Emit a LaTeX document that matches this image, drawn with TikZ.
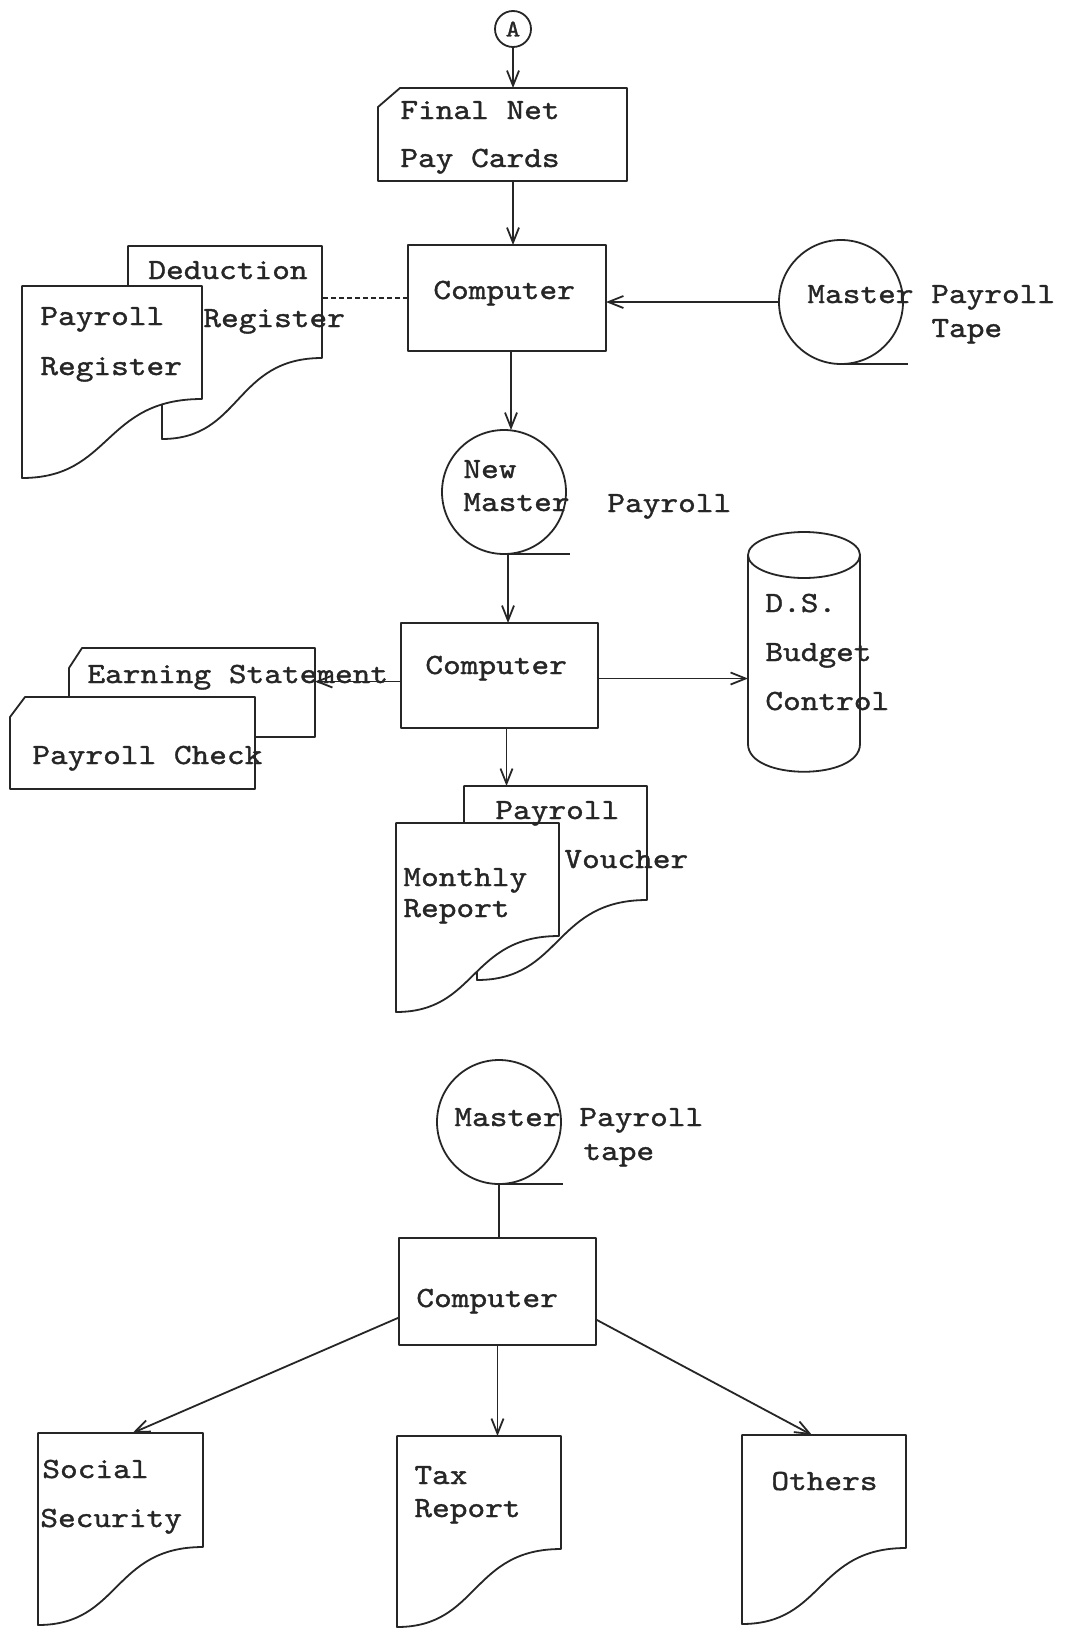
\documentclass[tikz,border=0pt]{standalone}
\usepackage{fontspec}
\newfontfamily\tw{lmmono10-regular.otf}[FakeStretch=1.15,FakeBold=1.2]
\usetikzlibrary{arrows.meta}
\begin{document}
\begin{tikzpicture}[x=0.5pt,y=-0.5pt,
  ink/.style={line width=0.9pt, draw=black!85, line join=round},
  arr/.style={ink, -{Straight Barb[length=7.5pt,width=6pt]}},
  dashlink/.style={ink, dash pattern=on 2.4pt off 1.6pt},
  sheet/.style={ink, fill=white},
  lbl/.style={anchor=base west, inner sep=0pt, text=black!85,
              font=\tw\fontsize{14.65pt}{17pt}\selectfont},
  area/.style 2 args={inner sep=0pt, outer sep=0pt,
              minimum width=#1, minimum height=#2},
  proc/.style={ink, rectangle, inner sep=0pt, outer sep=0pt, fill=white},
  reel/.style={ink, circle, inner sep=0pt, outer sep=0pt},
]
\useasboundingbox[fill=white] (0,0) rectangle (1066,1633);

% ---------------- first run: final net pay cards ----------------
\node[reel, minimum size=18pt, text=black!85,
      font=\tw\fontsize{12pt}{14pt}\selectfont] (A) at (513,29) {A};

\node[area={124.5pt}{46.5pt}] (fn) at (502.5,134.5) {};
\draw[sheet] (378,107) -- (400,88) -- (627,88) -- (627,181) -- (378,181) -- cycle;

\node[proc, minimum width=99pt, minimum height=53pt] (c1) at (507,298) {};
\node[reel, minimum size=62pt] (t1) at (841,302) {};

% deduction register (behind) and payroll register (front)
\node[area={97pt}{56pt}] (ded) at (225,302) {};
\draw[sheet] (128,246) -- (322,246) -- (322,358)
  .. controls (234,358) and (242,439) .. (162,439)
  -- (162,300) -- (128,300) -- cycle;
\node[area={90pt}{56.5pt}] (prg) at (112,342.5) {};
\draw[sheet] (22,286) -- (202,286) -- (202,399)
  .. controls (103,399) and (112,478) .. (22,478) -- cycle;

% ---------------- second run: new master payroll ----------------
\node[reel, minimum size=62pt] (nm) at (504,492) {};
\node[proc, minimum width=98.5pt, minimum height=52.5pt] (c2) at (499.5,675.5) {};

% disk file
\node[area={56pt}{94.5pt}] (cyl) at (804,649.5) {};
\draw[ink] (804,555) ellipse [x radius=56, y radius=23];
\draw[ink] (748,555) -- (748,744) .. controls (748,781) and (860,781) .. (860,744) -- (860,555);

% earning statement (behind) and payroll check (front)
\node[area={123pt}{44.5pt}] (es) at (192,692.5) {};
\draw[sheet] (69,668) -- (82,648) -- (315,648) -- (315,737) -- (69,737) -- cycle;
\node[area={122.5pt}{46pt}] (pc) at (132.5,743) {};
\draw[sheet] (10,717) -- (25,697) -- (255,697) -- (255,789) -- (10,789) -- cycle;

% payroll voucher (behind) and monthly report (front)
\node[area={91.5pt}{57pt}] (pv) at (555.5,843) {};
\draw[sheet] (464,786) -- (647,786) -- (647,900)
  .. controls (553.5,900) and (562,980) .. (477,980)
  -- (477,840) -- (464,840) -- cycle;
\node[area={81.5pt}{56.5pt}] (mr) at (477.5,879.5) {};
\draw[sheet] (396,823) -- (559,823) -- (559,936)
  .. controls (469.4,936) and (477.5,1012) .. (396,1012) -- cycle;

% ---------------- third run: reports ----------------
\node[reel, minimum size=62pt] (t3) at (499,1122) {};
\node[proc, minimum width=98.5pt, minimum height=53.5pt] (c3) at (497.5,1291.5) {};

\node[area={82.5pt}{57pt}] (ss) at (120.5,1490) {};
\draw[sheet] (38,1433) -- (203,1433) -- (203,1547)
  .. controls (112.25,1547) and (120.5,1625) .. (38,1625) -- cycle;
\node[area={82pt}{56.5pt}] (tx) at (479,1492.5) {};
\draw[sheet] (397,1436) -- (561,1436) -- (561,1549)
  .. controls (470.8,1549) and (479,1627) .. (397,1627) -- cycle;
\node[area={82pt}{56.5pt}] (ot) at (824,1491.5) {};
\draw[sheet] (742,1435) -- (906,1435) -- (906,1548)
  .. controls (815.8,1548) and (824,1624) .. (742,1624) -- cycle;

% tape leaders
\draw[ink] (t1.south) -- ++(67,0);
\draw[ink] (nm.south) -- ++(66,0);
\draw[ink] (t3.south) -- ++(64,0);

% ---------------- connectors ----------------
\draw[arr] (A) -- (A |- fn.north);
\draw[arr] (A |- fn.south) -- (A |- c1.north);
\draw[arr] (t1) -- (t1 -| c1.east);
\draw[dashlink] (c1.west) -- (c1.west -| ded.east);
\draw[arr] ([xshift=2pt]c1.south) -- ([xshift=2pt]c1.south |- nm.north);
\draw[arr] ([xshift=2pt]nm.south) -- ([xshift=2pt]nm.south |- c2.north);
\draw[arr] ([yshift=-1.5pt]c2.east) -- ([yshift=-1.5pt]c2.east -| cyl.west);
\draw[arr] ([yshift=-3pt]c2.west) -- ([yshift=-3pt]c2.west -| es.east);
\draw[arr] ([xshift=3.5pt]c2.south) -- ([xshift=3.5pt]c2.south |- pv.north);
\draw[ink] (t3) -- (t3 |- c3.north);
\draw[arr] ([yshift=-13pt]c3.west) -- ([xshift=6pt]ss.north);
\draw[arr] (c3.south) -- (c3.south |- tx.north);
\draw[arr] ([yshift=-14pt]c3.east) -- ([xshift=-6pt]ot.north);

% ---------------- labels ----------------
\node[lbl] (l01) at (400,119) {Final Net};
\node[lbl] (l02) at (400,167) {Pay Cards};
\node[lbl] (l03) at (433,299) {Computer};
\node[lbl] (l04) at (807,303) {Master Payroll};
\node[lbl] (l05) at (931,337) {Tape};
\node[lbl] (l06) at (148,279) {Deduction};
\node[lbl] (l07) at (203,327) {Register};
\node[lbl] (l08) at (40,325) {Payroll};
\node[lbl] (l09) at (40,375) {Register};
\node[lbl] (l10) at (463,478) {New};
\node[lbl] (l11) at (463,511) {Master};
\node[lbl] (l12) at (607,512) {Payroll};
\node[lbl] (l13) at (425,674) {Computer};
\node[lbl] (l14) at (765,612) {D.S.};
\node[lbl] (l15) at (765,661) {Budget};
\node[lbl] (l16) at (765,710) {Control};
\node[lbl] (l17) at (87,683) {Earning Statement};
\node[lbl] (l18) at (32,764) {Payroll Check};
\node[lbl] (l19) at (495,819) {Payroll};
\node[lbl] (l20) at (564,868) {Voucher};
\node[lbl] (l21) at (403,886) {Monthly};
\node[lbl] (l22) at (403,917) {Report};
\node[lbl] (l23) at (454,1126) {Master};
\node[lbl] (l24) at (579,1126) {Payroll};
\node[lbl] (l25) at (583,1160) {tape};
\node[lbl] (l26) at (416,1307) {Computer};
\node[lbl] (l27) at (42,1478) {Social};
\node[lbl] (l28) at (40,1527) {Security};
\node[lbl] (l29) at (414,1484) {Tax};
\node[lbl] (l30) at (414,1517) {Report};
\node[lbl] (l31) at (771,1490) {Others};
\end{tikzpicture}
\end{document}
